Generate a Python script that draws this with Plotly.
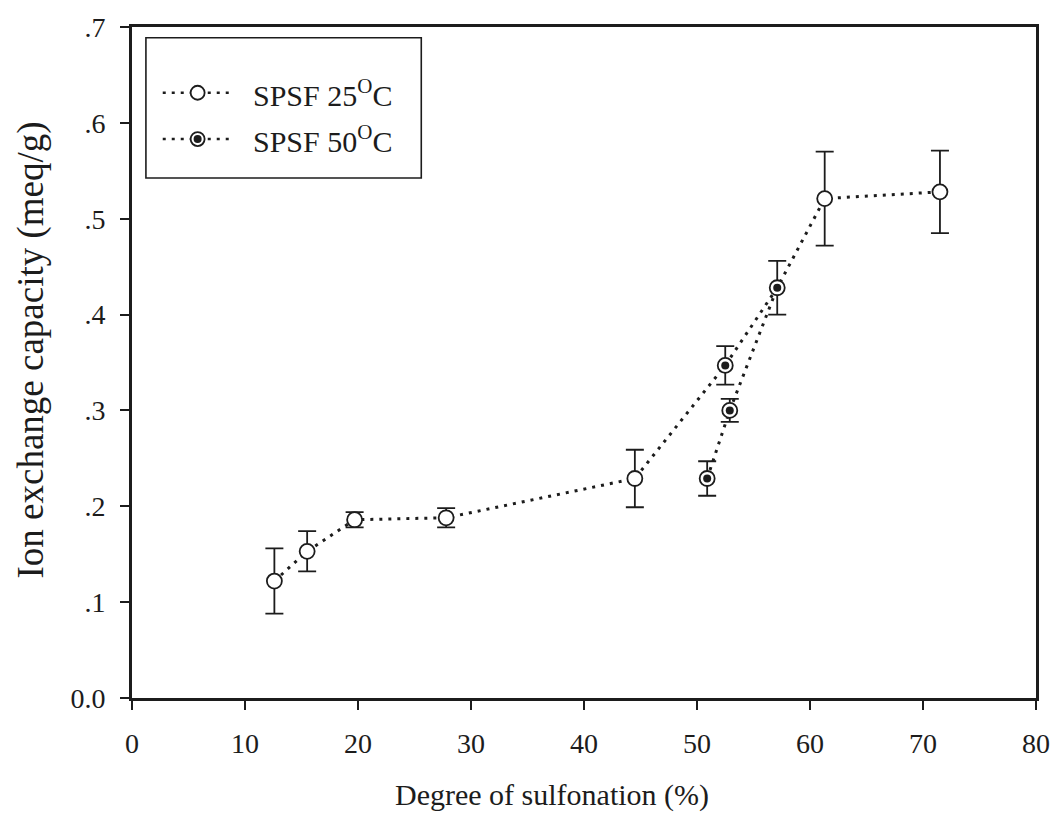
import plotly.graph_objects as go

# Ion exchange capacity of sulfonated polysulfone (SPSF) films
deg_25 = [12.6, 15.5, 19.7, 27.8, 44.5, 61.3, 71.5]
iec_25 = [0.122, 0.153, 0.186, 0.188, 0.229, 0.521, 0.528]
err_25 = [0.034, 0.021, 0.008, 0.010, 0.030, 0.049, 0.043]

deg_50 = [50.9, 52.5, 52.9, 57.1]
iec_50 = [0.229, 0.347, 0.300, 0.428]
err_50 = [0.018, 0.020, 0.012, 0.028]

# points joined by each dotted curve
upper_from_50 = [1, 3]
lower_from_50 = [0, 2, 3]

x_ticks = [0, 10, 20, 30, 40, 50, 60, 70, 80]
y_ticks = [0.0, 0.1, 0.2, 0.3, 0.4, 0.5, 0.6, 0.7]
y_ticktext = ["0.0", ".1", ".2", ".3", ".4", ".5", ".6", ".7"]

legend_labels = ["SPSF 25<sup>O</sup>C", "SPSF 50<sup>O</sup>C"]

INK = "#1c1c1c"
FONT = "Liberation Serif"
DOT = "3px,6px"

upper = sorted(list(zip(deg_25, iec_25)) +
               [(deg_50[i], iec_50[i]) for i in upper_from_50])
lower = [(deg_50[i], iec_50[i]) for i in lower_from_50]

fig = go.Figure()

# dotted connecting curves
for path in (upper, lower):
    fig.add_trace(go.Scatter(
        x=[p[0] for p in path], y=[p[1] for p in path],
        mode="lines", line=dict(color=INK, width=3, dash=DOT),
        hoverinfo="skip", showlegend=False))

# 25 C: open circles with error bars
fig.add_trace(go.Scatter(
    x=deg_25, y=iec_25, mode="markers", name="SPSF 25 C",
    marker=dict(symbol="circle", size=15, color="white",
                line=dict(color=INK, width=1.8)),
    error_y=dict(type="data", array=err_25, visible=True,
                 color=INK, thickness=1.8, width=9),
    showlegend=False))

# 50 C: circles with a dark centre
fig.add_trace(go.Scatter(
    x=deg_50, y=iec_50, mode="markers", name="SPSF 50 C",
    marker=dict(symbol="circle", size=15, color="white",
                line=dict(color=INK, width=1.8)),
    error_y=dict(type="data", array=err_50, visible=True,
                 color=INK, thickness=1.8, width=9),
    showlegend=False))
fig.add_trace(go.Scatter(
    x=deg_50, y=iec_50, mode="markers",
    marker=dict(symbol="circle", size=8, color=INK, line=dict(width=0)),
    hoverinfo="skip", showlegend=False))

# legend box drawn in paper space
shapes = [dict(type="rect", xref="paper", yref="paper",
               x0=0.0154, x1=0.320, y0=0.775, y1=0.984,
               line=dict(color=INK, width=1.6), fillcolor="white")]
annotations = []
rows_y = [0.902, 0.833]
for k, (yy, label) in enumerate(zip(rows_y, legend_labels)):
    shapes.append(dict(type="line", xref="paper", yref="paper",
                       x0=0.034, x1=0.110, y0=yy, y1=yy,
                       line=dict(color=INK, width=2.6, dash=DOT)))
    shapes.append(dict(type="circle", xref="paper", yref="paper",
                       xsizemode="pixel", ysizemode="pixel",
                       xanchor=0.0726, yanchor=yy,
                       x0=-7, x1=7, y0=-7, y1=7,
                       line=dict(color=INK, width=1.8), fillcolor="white"))
    if k == 1:
        shapes.append(dict(type="circle", xref="paper", yref="paper",
                           xsizemode="pixel", ysizemode="pixel",
                           xanchor=0.0726, yanchor=yy,
                           x0=-4, x1=4, y0=-4, y1=4,
                           line=dict(width=0), fillcolor=INK))
    annotations.append(dict(xref="paper", yref="paper", x=0.132, y=yy,
                            text=label, showarrow=False, xanchor="left",
                            yanchor="middle",
                            font=dict(family=FONT, size=30, color=INK)))

# axis titles
annotations.append(dict(xref="paper", yref="paper", x=0.465, y=-0.145,
                        text="Degree of sulfonation (%)", showarrow=False,
                        xanchor="center", yanchor="middle",
                        font=dict(family=FONT, size=30, color=INK)))
annotations.append(dict(xref="paper", yref="paper", x=-0.112, y=0.519,
                        text="Ion exchange capacity (meq/g)", showarrow=False,
                        textangle=-90, xanchor="center", yanchor="middle",
                        font=dict(family=FONT, size=37, color=INK)))

fig.update_layout(
    width=1062, height=825,
    margin=dict(l=132, r=21, t=26, b=127),
    paper_bgcolor="white", plot_bgcolor="white",
    shapes=shapes, annotations=annotations,
    font=dict(family=FONT, size=28, color=INK),
)
fig.update_xaxes(range=[0, 80], tickvals=x_ticks,
                 ticktext=[str(v) for v in x_ticks],
                 showgrid=False, zeroline=False,
                 showline=True, linecolor=INK, linewidth=2.6, mirror=True,
                 ticks="outside", ticklen=9, tickwidth=2, tickcolor=INK,
                 ticklabelstandoff=10,
                 tickfont=dict(family=FONT, size=28, color=INK))
fig.update_yaxes(range=[0, 0.7], tickvals=y_ticks, ticktext=y_ticktext,
                 showgrid=False, zeroline=False,
                 showline=True, linecolor=INK, linewidth=2.6, mirror=True,
                 ticks="outside", ticklen=9, tickwidth=2, tickcolor=INK,
                 ticklabelstandoff=9,
                 tickfont=dict(family=FONT, size=28, color=INK))

fig.write_html("out.html")
